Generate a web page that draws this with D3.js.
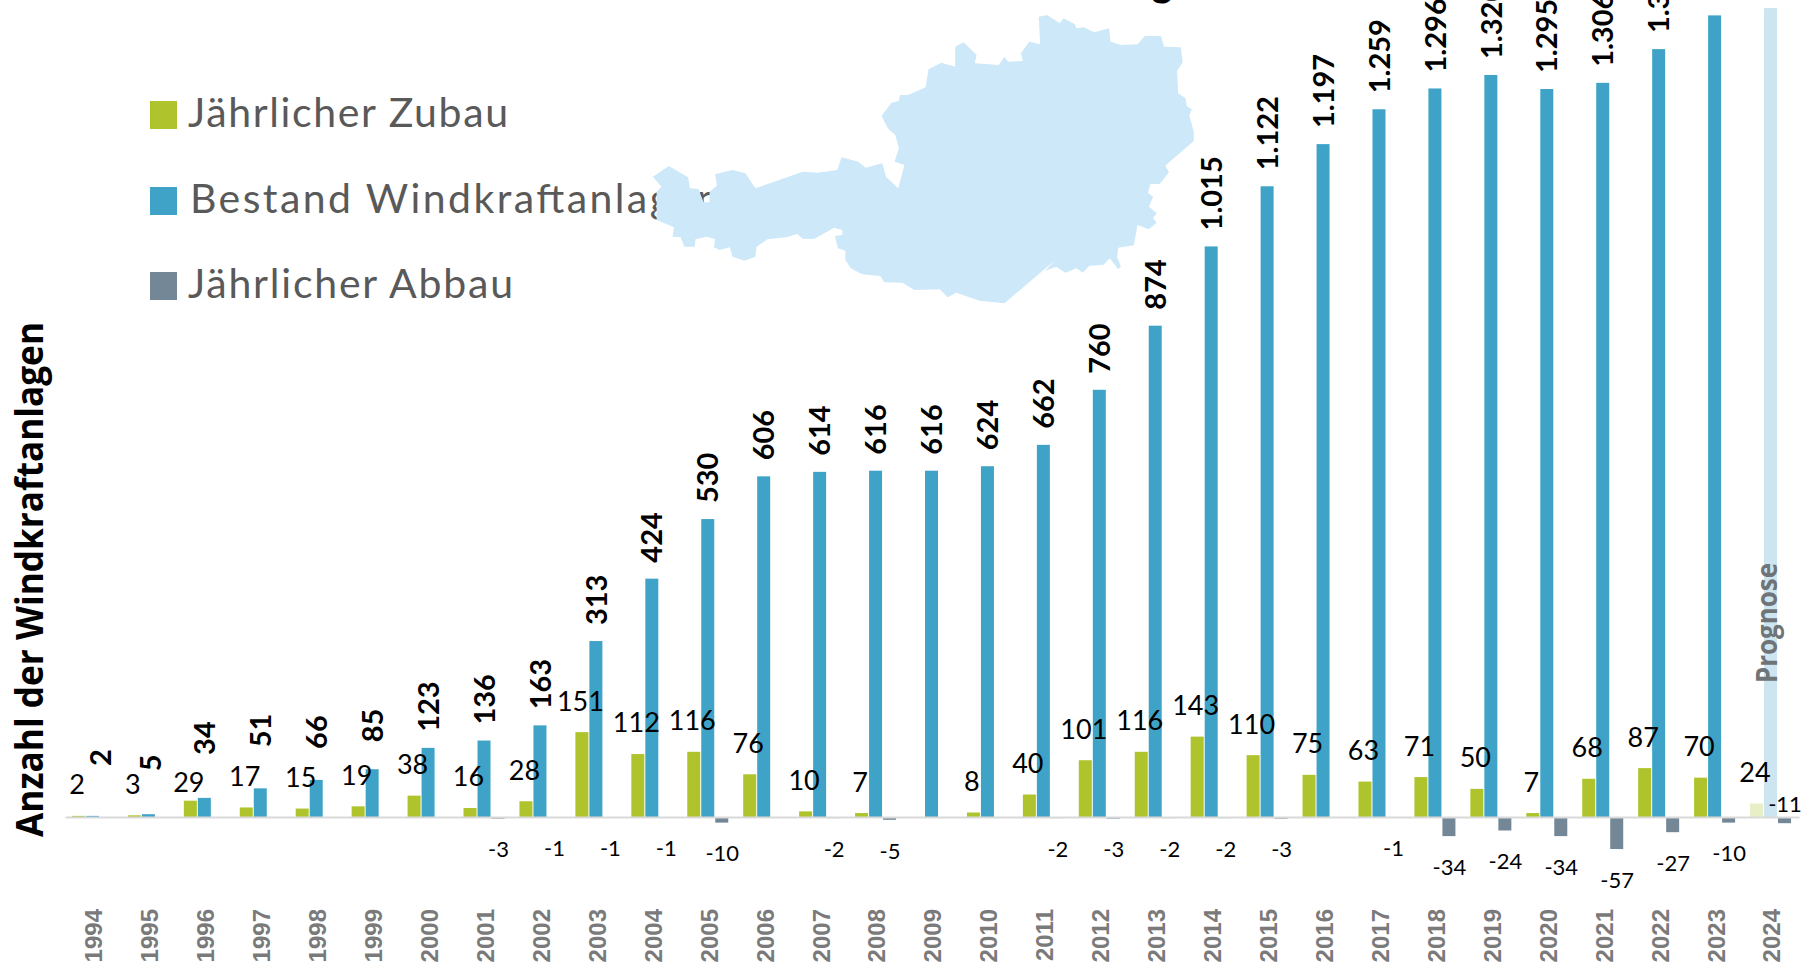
<!DOCTYPE html>
<html>
<head>
<meta charset="utf-8">
<script src="https://cdn.jsdelivr.net/npm/d3@7"></script>
<style>
  html, body { margin: 0; padding: 0; background: #fff; overflow: hidden; }
  svg { display: block; }
  text { font-family: Lato, "Open Sans", sans-serif; }
</style>
</head>
<body>
<script>
//chart data
const years = [1994, 1995, 1996, 1997, 1998, 1999, 2000, 2001, 2002, 2003, 2004, 2005, 2006, 2007, 2008, 2009,
  2010, 2011, 2012, 2013, 2014, 2015, 2016, 2017, 2018, 2019, 2020, 2021, 2022, 2023, 2024]
const zubau = [2, 3, 29, 17, 15, 19, 38, 16, 28, 151, 112, 116, 76, 10, 7, 0,
  8, 40, 101, 116, 143, 110, 75, 63, 71, 50, 7, 68, 87, 70, 24]
const bestand = [2, 5, 34, 51, 66, 85, 123, 136, 163, 313, 424, 530, 606, 614, 616, 616,
  624, 662, 760, 874, 1015, 1122, 1197, 1259, 1296, 1320, 1295, 1306, 1366, 1426, 1439]
const abbau = [0, 0, 0, 0, 0, 0, 0, -3, -1, -1, -1, -10, 0, -2, -5, 0,
  0, -2, -3, -2, -2, -3, 0, -1, -34, -24, -34, -57, -27, -10, -11]
const seriesNames = ['zubau', 'bestand', 'abbau']
const legendLabels = ['Jährlicher Zubau', 'Bestand Windkraftanlagen', 'Jährlicher Abbau']

//outline of austria, in units of the outline itself (scaled below)
const austria = [[1078,50],[1100,45],[1135,70],[1145,55],[1175,72],[1180,85],[1200,82],[1228,97],[1268,85],[1272,125],
  [1300,135],[1345,133],[1365,108],[1408,108],[1417,140],[1462,142],[1467,187],[1452,212],[1455,280],[1475,295],
  [1478,318],[1492,328],[1485,345],[1497,395],[1497,423],[1420,497],[1430,517],[1405,552],[1380,552],[1373,578],
  [1387,590],[1376,620],[1397,640],[1387,655],[1397,668],[1375,688],[1345,675],[1335,736],[1293,743],[1290,770],
  [1300,800],[1293,808],[1270,775],[1252,795],[1215,797],[1197,818],[1180,805],[1150,818],[1125,800],[1095,812],
  [1125,778],[985,910],[918,902],[855,878],[832,892],[810,868],[742,870],[710,848],[660,847],[650,828],
  [600,823],[570,805],[555,780],[555,752],[535,745],[527,708],[547,705],[547,690],[525,683],[470,717],
  [440,716],[425,702],[395,712],[345,718],[315,740],[312,770],[283,782],[250,770],[243,742],[215,750],
  [200,742],[203,717],[180,710],[150,718],[148,740],[120,740],[110,712],[88,710],[92,682],[45,660],
  [45,575],[58,560],[35,530],[78,498],[130,532],[135,565],[158,567],[172,607],[188,607],[188,575],
  [208,557],[203,523],[250,510],[285,520],[312,565],[440,515],[480,518],[533,510],[545,472],[590,485],
  [610,503],[655,490],[665,530],[698,565],[715,495],[688,485],[700,445],[690,405],[670,385],[653,348],
  [680,308],[700,302],[703,285],[725,285],[772,262],[780,208],[815,188],[852,200],[852,140],[875,127],
  [910,165],[905,190],[970,195],[985,170],[995,185],[1035,183],[1030,160],[1052,125],[1082,133]]

const width = 1804
const height = 963

//colors
const colors = { zubau: '#afc42c', bestand: '#3fa3c7', abbau: '#748796' }
const prognoseColors = { zubau: '#e8eec6', bestand: '#cde5f0', abbau: '#748796' }
const mapColor = '#cde8f9'
const prognoseYear = 2024

const svg = d3.select('body')
  .append('svg')
  .attr('width', width)
  .attr('height', height)

//=================SCALES===================
const xScale = d3.scaleBand()
  .domain(years)
  .range([65, 1799])

const groupScale = d3.scaleBand()
  .domain(seriesNames)
  .range([-21, 21])

const yScale = d3.scaleLinear()
  .domain([0, 1400])
  .range([817, 30])

//german thousands separator
const fmt = d3.formatLocale({ decimal: ',', thousands: '.', grouping: [3], currency: ['', ''] }).format(',')

const barX = (name, year) => xScale(year) + xScale.bandwidth() / 2 + groupScale(name)
const barCenter = (name, year) => barX(name, year) + groupScale.bandwidth() / 2

//=================== LEGEND ==================
const legendY = [101, 187, 272]
const legendTextX = [188, 190, 188]
const legendTextLength = [320, 530, 325]

const legend = svg.append('g').attr('id', 'legend')
seriesNames.forEach((name, i) => {
  legend.append('rect')
    .attr('x', 150)
    .attr('y', legendY[i])
    .attr('width', 27)
    .attr('height', 28)
    .attr('fill', colors[name])
  legend.append('text')
    .text(legendLabels[i])
    .attr('x', legendTextX[i])
    .attr('y', legendY[i] + 26)
    .attr('font-size', 41)
    .attr('fill', '#595959')
    .attr('textLength', legendTextLength[i])
    .attr('lengthAdjust', 'spacing')
})

//=================== MAP ==================
const mapX = d3.scaleLinear().domain([0, 1568]).range([640, 1220])
const mapY = d3.scaleLinear().domain([0, 960]).range([0, 320])

svg.append('path')
  .attr('d', d3.line().x(d => mapX(d[0])).y(d => mapY(d[1])).curve(d3.curveLinearClosed)(austria))
  .attr('fill', mapColor)

//rest of the title, only its descender is left in the picture
svg.append('text')
  .text('g')
  .attr('x', 1162)
  .attr('y', -4)
  .attr('text-anchor', 'middle')
  .attr('font-size', 40)
  .attr('font-weight', 700)
  .attr('fill', '#000')

//=================== BARS ==================
const drawBars = (name, values) => {
  svg.append('g')
    .attr('class', `bars-${name}`)
    .selectAll('rect')
    .data(values.map((v, i) => ({ value: v, year: years[i] })).filter(d => d.value !== 0))
    .enter()
    .append('rect')
    .attr('x', d => barX(name, d.year))
    .attr('width', groupScale.bandwidth() - 1)
    .attr('y', d => Math.min(yScale(d.value), yScale(0)))
    .attr('height', d => Math.abs(yScale(d.value) - yScale(0)))
    .attr('fill', d => d.year === prognoseYear ? prognoseColors[name] : colors[name])
}

drawBars('bestand', bestand)
drawBars('zubau', zubau)
drawBars('abbau', abbau)

//=================== AXIS ==================
const xAxis = d3.axisBottom(xScale)
  .tickSize(0)

const xAxisGroup = svg.append('g')
  .attr('id', 'x-axis')
  .attr('transform', `translate(0,${yScale(0)})`)
  .call(xAxis)

xAxisGroup.select('.domain')
  .attr('stroke', '#d9d9d9')
  .attr('stroke-width', 2)

xAxisGroup.selectAll('.tick text')
  .attr('transform', 'translate(1,92) rotate(-90)')
  .attr('text-anchor', 'end')
  .attr('x', 0)
  .attr('y', 0)
  .attr('dy', '0.35em')
  .style('font-family', '"Liberation Sans", sans-serif')
  .attr('font-size', 24)
  .attr('font-weight', 700)
  .attr('fill', '#7a7a7a')

//=================== LABELS ==================
//labels that were moved by hand in the original
const bestandNudge = { 1994: [8, -34], 1995: [2, -27], 1996: [0, -27], 1997: [0, -25], 1998: [0, -15], 1999: [0, -11] }
const zubauNudge = { 1996: 13 }
const abbauNudge = { 2024: [0, -50] }

const bestandLabels = bestand.map((v, i) => ({ value: v, year: years[i] })).filter(d => d.year < 2023)

svg.append('g')
  .selectAll('text')
  .data(bestandLabels)
  .enter()
  .append('text')
  .text(d => fmt(d.value))
  .attr('transform', d => {
    const nudge = bestandNudge[d.year] || [0, 0]
    return `translate(${barCenter('bestand', d.year) + nudge[0]},${yScale(d.value) - 16 + nudge[1]}) rotate(-90)`
  })
  .attr('dy', '0.35em')
  .attr('font-size', 29)
  .attr('font-weight', 700)
  .attr('fill', '#000')

svg.append('g')
  .selectAll('text')
  .data(zubau.map((v, i) => ({ value: v, year: years[i] })).filter(d => d.value !== 0))
  .enter()
  .append('text')
  .text(d => d.value)
  .attr('x', d => barCenter('zubau', d.year) - 2)
  .attr('y', d => yScale(d.value) - 31 + (zubauNudge[d.year] || 0))
  .attr('dy', '0.35em')
  .attr('text-anchor', 'middle')
  .attr('font-size', 27)
  .attr('fill', '#000')

svg.append('g')
  .selectAll('text')
  .data(abbau.map((v, i) => ({ value: v, year: years[i] })).filter(d => d.value !== 0))
  .enter()
  .append('text')
  .text(d => d.value)
  .attr('x', d => barCenter('abbau', d.year) + (abbauNudge[d.year] ? abbauNudge[d.year][0] : 0))
  .attr('y', d => yScale(d.value) + 31 + (abbauNudge[d.year] ? abbauNudge[d.year][1] : 0))
  .attr('dy', '0.35em')
  .attr('text-anchor', 'middle')
  .attr('font-size', 22)
  .attr('fill', '#000')

//=================== AXIS TITLE + PROGNOSE ==================
svg.append('text')
  .text('Anzahl der Windkraftanlagen')
  .attr('transform', 'translate(43,837) rotate(-90)')
  .style('font-family', '"Open Sans", sans-serif')
  .attr('font-size', 37)
  .attr('font-weight', 700)
  .attr('fill', '#000')
  .attr('textLength', 515)
  .attr('lengthAdjust', 'spacingAndGlyphs')

svg.append('text')
  .text('Prognose')
  .attr('transform', 'translate(1777,683) rotate(-90)')
  .style('font-family', '"Open Sans", sans-serif')
  .attr('font-size', 28)
  .attr('font-weight', 700)
  .attr('fill', '#6f7478')
  .attr('textLength', 120)
  .attr('lengthAdjust', 'spacingAndGlyphs')
</script>
</body>
</html>
